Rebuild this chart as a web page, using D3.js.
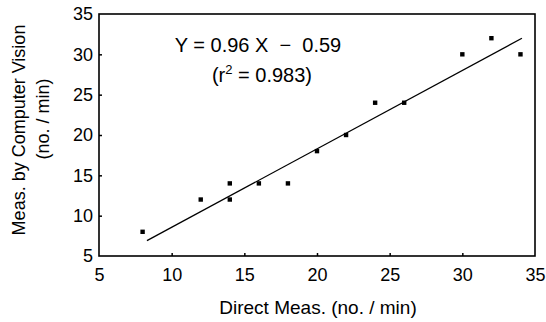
<!DOCTYPE html>
<html><head><meta charset="utf-8">
<script src="https://cdn.jsdelivr.net/npm/d3@7"></script>
<style>body{margin:0;background:#fff}text{font-family:"Liberation Sans",Arial,sans-serif;fill:#000}</style>
</head><body><svg id="c" width="546" height="322"></svg>
<script>
const directMeas = [8, 12, 14, 14, 16, 18, 20, 22, 24, 26, 30, 32, 34];
const visionMeas = [8, 12, 14, 12, 14, 14, 18, 20, 24, 24, 30, 32, 30];
const fitX = [8.3, 34.1];
const fitY = [6.9, 32.0];
const xTicks = [5, 10, 15, 20, 25, 30, 35];
const yTicks = [5, 10, 15, 20, 25, 30, 35];

const svg = d3.select("#c");
const L = 99, R = 535, T = 14, B = 256;
const x = d3.scaleLinear().domain([5, 35]).range([L, R]);
const y = d3.scaleLinear().domain([5, 35]).range([B, T]);

svg.append("rect").attr("x", L).attr("y", T).attr("width", R - L).attr("height", B - T)
  .attr("fill", "none").attr("stroke", "#000").attr("stroke-width", 1.6);

const xAxis = svg.append("g").attr("transform", `translate(0,${B})`)
  .call(d3.axisBottom(x).tickValues(xTicks).tickSizeInner(-3).tickSizeOuter(0).tickPadding(12));
xAxis.select(".domain").remove();
xAxis.selectAll("text").attr("font-size", 18).attr("font-family", "Liberation Sans, Arial");
xAxis.selectAll("line").attr("stroke-width", 1.5);
xAxis.selectAll(".tick").filter(d => d === 5 || d === 35).select("line").remove();

const yAxis = svg.append("g").attr("transform", `translate(${L},0)`)
  .call(d3.axisLeft(y).tickValues(yTicks).tickSizeInner(-3).tickSizeOuter(0).tickPadding(6));
yAxis.select(".domain").remove();
yAxis.selectAll("text").attr("font-size", 18).attr("font-family", "Liberation Sans, Arial");
yAxis.selectAll("line").attr("stroke-width", 1.5);
yAxis.selectAll(".tick").filter(d => d === 5 || d === 35).select("line").remove();

svg.append("line").attr("x1", x(fitX[0])).attr("y1", y(fitY[0]))
  .attr("x2", x(fitX[1])).attr("y2", y(fitY[1])).attr("stroke", "#000").attr("stroke-width", 1.3);

svg.selectAll(".pt").data(directMeas.map((d, i) => [d, visionMeas[i]])).enter()
  .append("rect").attr("x", d => x(d[0]) - 2.2).attr("y", d => y(d[1]) - 2.2)
  .attr("width", 4.4).attr("height", 4.4).attr("fill", "#000");

svg.append("text").attr("x", 258).attr("y", 52).attr("text-anchor", "middle").attr("font-size", 20)
  .style("white-space", "pre").text("Y = 0.96 X  \u2212  0.59");
const r = svg.append("text").attr("x", 262).attr("y", 82).attr("text-anchor", "middle").attr("font-size", 20);
r.append("tspan").text("(r");
r.append("tspan").attr("dy", -8).attr("font-size", 13).text("2");
r.append("tspan").attr("dy", 8).text(" = 0.983)");

svg.append("text").attr("x", 318).attr("y", 314).attr("text-anchor", "middle").attr("font-size", 19)
  .text("Direct Meas. (no. / min)");
svg.append("text").attr("transform", "translate(25,130) rotate(-90)").attr("text-anchor", "middle")
  .attr("font-size", 18).text("Meas. by Computer Vision");
svg.append("text").attr("transform", "translate(49,119) rotate(-90)").attr("text-anchor", "middle")
  .attr("font-size", 18).text("(no. / min)");
</script></body></html>
